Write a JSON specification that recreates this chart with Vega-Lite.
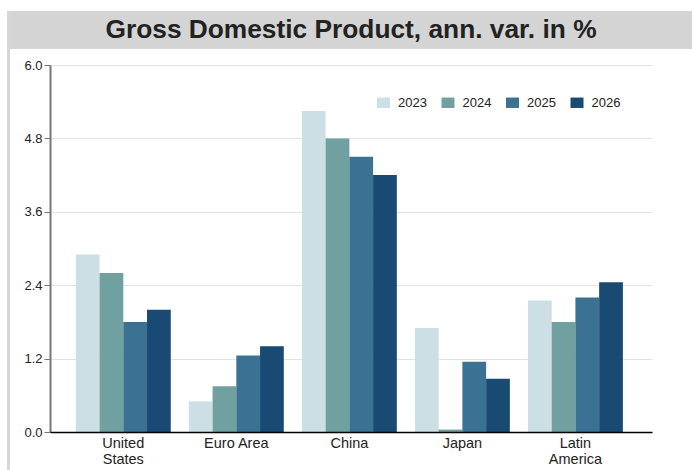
{
  "$schema": "https://vega.github.io/schema/vega-lite/v6.json",
  "padding": {"left": 6, "top": 10, "right": 0, "bottom": 0},
  "autosize": {"type": "pad"},
  "background": "white",
  "spacing": 0,
  "bounds": "flush",
  "config": {"font": "Liberation Sans", "view": {"stroke": null}},
  "hconcat": [
    {
      "width": 3,
      "height": 460,
      "view": {"fill": "#d6d6d6", "stroke": null},
      "data": {"values": [{}]},
      "mark": {"type": "rule", "opacity": 0},
      "encoding": {}
    },
    {
      "center": true,
      "spacing": 16,
      "bounds": "flush",
      "vconcat": [
        {
          "width": 682,
          "height": 38,
          "view": {"fill": "#d4d4d4", "stroke": null},
          "data": {"values": [{"t": "Gross Domestic Product, ann. var. in %"}]},
          "mark": {"type": "text", "font": "Liberation Sans", "fontSize": 26.3, "fontWeight": "bold", "color": "#222222", "baseline": "middle", "dy": 0},
          "encoding": {"text": {"field": "t", "type": "nominal"}}
        },
        {
          "width": 602,
          "height": 367,
          "data": {
            "values": [
              {"region": "United States", "year": "2023", "value": 2.9},
              {"region": "United States", "year": "2024", "value": 2.6},
              {"region": "United States", "year": "2025", "value": 1.8},
              {"region": "United States", "year": "2026", "value": 2.0},
              {"region": "Euro Area", "year": "2023", "value": 0.5},
              {"region": "Euro Area", "year": "2024", "value": 0.75},
              {"region": "Euro Area", "year": "2025", "value": 1.25},
              {"region": "Euro Area", "year": "2026", "value": 1.4},
              {"region": "China", "year": "2023", "value": 5.25},
              {"region": "China", "year": "2024", "value": 4.8},
              {"region": "China", "year": "2025", "value": 4.5},
              {"region": "China", "year": "2026", "value": 4.2},
              {"region": "Japan", "year": "2023", "value": 1.7},
              {"region": "Japan", "year": "2024", "value": 0.04},
              {"region": "Japan", "year": "2025", "value": 1.15},
              {"region": "Japan", "year": "2026", "value": 0.87},
              {"region": "Latin America", "year": "2023", "value": 2.15},
              {"region": "Latin America", "year": "2024", "value": 1.8},
              {"region": "Latin America", "year": "2025", "value": 2.2},
              {"region": "Latin America", "year": "2026", "value": 2.45}
            ]
          },
          "mark": {"type": "bar"},
          "encoding": {
            "x": {
              "field": "region",
              "type": "nominal",
              "sort": ["United States", "Euro Area", "China", "Japan", "Latin America"],
              "scale": {"paddingInner": 0.16, "paddingOuter": 0.243, "align": 0.47},
              "axis": {
                "title": null,
                "ticks": false,
                "grid": false,
                "domainColor": "#000000",
                "domainWidth": 1.5,
                "labelFontSize": 14.5,
                "labelColor": "#222222",
                "labelAngle": 0,
                "labelPadding": 4,
                "labelLineHeight": 16,
                "labelExpr": "datum.value == 'Euro Area' ? datum.value : split(datum.value, ' ')",
                "zindex": 1
              }
            },
            "xOffset": {"field": "year", "type": "nominal", "sort": ["2023", "2024", "2025", "2026"]},
            "y": {
              "field": "value",
              "type": "quantitative",
              "scale": {"domain": [0, 6], "nice": false},
              "axis": {
                "title": null,
                "values": [0, 1.2, 2.4, 3.6, 4.8, 6],
                "format": ".1f",
                "tickSize": 6,
                "tickColor": "#777777",
                "labelPadding": 2,
                "domainColor": "#777777",
                "domainWidth": 2,
                "gridColor": "#e2e2e2",
                "labelFontSize": 13,
                "labelColor": "#222222"
              }
            },
            "color": {
              "field": "year",
              "type": "nominal",
              "scale": {"domain": ["2023", "2024", "2025", "2026"], "range": ["#cbdfe5", "#71a0a1", "#3b7192", "#184a73"]},
              "legend": {
                "title": null,
                "orient": "none",
                "legendX": 370,
                "legendY": 85,
                "direction": "horizontal",
                "columns": 4,
                "symbolType": "M-1,-0.8H1V0.8H-1Z",
                "symbolSize": 169,
                "symbolStrokeWidth": 0,
                "symbolOpacity": 1,
                "labelFontSize": 13,
                "labelColor": "#222222",
                "labelOffset": 8,
                "columnPadding": 14.5,
                "padding": 0
              }
            }
          }
        }
      ]
    }
  ]
}
